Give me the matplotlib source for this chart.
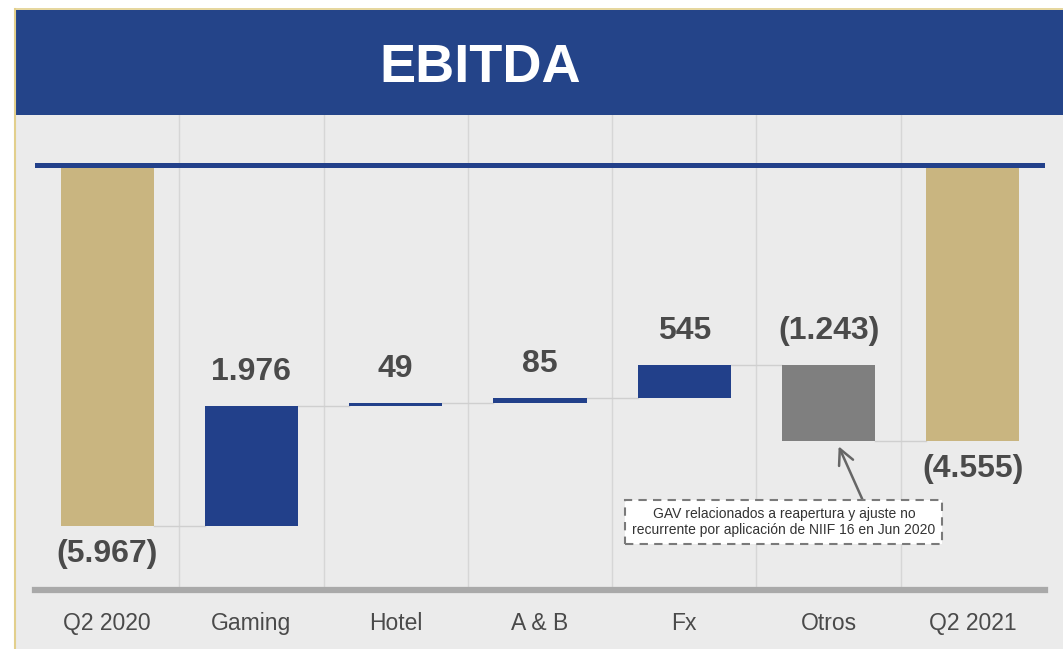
import matplotlib.pyplot as plt
from matplotlib.patches import Rectangle
from matplotlib.lines import Line2D

categories = ["Q2 2020", "Gaming", "Hotel", "A & B", "Fx", "Otros", "Q2 2021"]
changes = [-5967, 1976, 49, 85, 545, -1243, -4555]
labels = ["(5.967)", "1.976", "49", "85", "545", "(1.243)", "(4.555)"]
kinds = ["total", "up", "up", "up", "up", "down", "total"]
note = "GAV relacionados a reapertura y ajuste no\nrecurrente por aplicación de NIIF 16 en Jun 2020"

gold = "#c9b580"
blue = "#22408a"
grey_bar = "#7f7f7f"
txt = "#4a4a4a"
bg = "#ebebeb"

plt.rcParams["font.family"] = ["Liberation Sans", "DejaVu Sans"]

W, H = 1063, 649
fig = plt.figure(figsize=(W / 100, H / 100), dpi=100, facecolor="white")

def fx(px):
    return px / W

def fy(py):
    return 1 - py / H

# page background + title band
fig.patches.append(Rectangle((fx(16), 0), 1 - fx(16), fy(115), transform=fig.transFigure,
                             facecolor=bg, edgecolor="none", zorder=-2))
fig.patches.append(Rectangle((fx(16), fy(115)), 1 - fx(16), fy(10) - fy(115),
                             transform=fig.transFigure, facecolor="#244489", edgecolor="none", zorder=-1))
fig.lines.append(Line2D([fx(15), fx(15)], [0, fy(9)], transform=fig.transFigure, color="#e2cf8c", lw=1.5))
fig.lines.append(Line2D([fx(15), 1], [fy(9), fy(9)], transform=fig.transFigure, color="#e2cf8c", lw=1.2))
fig.text(fx(480), fy(82), "EBITDA", color="white", fontsize=39, fontweight="bold",
         ha="center", va="baseline")

ax = fig.add_axes([fx(35), fy(590), fx(1045) - fx(35), fy(115) - fy(590)])
ax.set_zorder(5)
ax.set_facecolor(bg)
ax.set_xlim(-0.5, 6.5)
ax.set_ylim(-7025, 826)

x = list(range(len(categories)))
width = 0.645
running = 0
ends = []
for i, (c, k) in enumerate(zip(changes, kinds)):
    if k == "total":
        bottom, height = 0, c
        running = c
        color = gold
    else:
        bottom, height = running, c
        running = running + c
        color = blue if k == "up" else grey_bar
    ax.bar(i, height, bottom=bottom, width=width, color=color, zorder=3)
    ends.append(running)
    top = max(bottom, bottom + height)
    low = min(bottom, bottom + height)
    if k == "total":
        ax.annotate(labels[i], (i, low), xytext=(0, -20.5), textcoords="offset points",
                    ha="center", va="center", fontsize=23, fontweight="bold", color=txt, zorder=5)
    else:
        ax.annotate(labels[i], (i, top), xytext=(0, 24.5), textcoords="offset points",
                    ha="center", va="center", fontsize=23, fontweight="bold", color=txt, zorder=5)

# connectors
for i in range(len(categories) - 1):
    ax.plot([i + width / 2, i + 1 - width / 2], [ends[i], ends[i]], color="#cfcfcf", lw=1, zorder=2)

for g in [0.5, 1.5, 2.5, 3.5, 4.5, 5.5]:
    ax.axvline(g, color="#d6d6d6", lw=1, zorder=1)

ax.axhline(0, color=blue, lw=3.6, zorder=4)
for s in ["top", "left", "right"]:
    ax.spines[s].set_visible(False)
ax.spines["bottom"].set_color("#a9a9a9")
ax.spines["bottom"].set_linewidth(4.5)
ax.set_yticks([])
ax.set_xticks(x)
ax.set_xticklabels(categories, fontsize=16.5, color=txt)
ax.tick_params(axis="x", length=0, pad=16)

ax.annotate(note, xy=(5.07, -4650), xytext=(4.69, -5900), textcoords="data",
            ha="center", va="center", fontsize=10, color="#333333", zorder=6,
            bbox=dict(boxstyle="square,pad=0.5", fc="white", ec="#7a7a7a", ls=(0, (4, 3)), lw=1.5),
            arrowprops=dict(arrowstyle="->,head_length=1.1,head_width=0.55", color="#666666", lw=1.8,
                            shrinkA=0, shrinkB=0, relpos=(0.77, 1.0)))

fig.savefig("out.png", dpi=100, facecolor=fig.get_facecolor())
